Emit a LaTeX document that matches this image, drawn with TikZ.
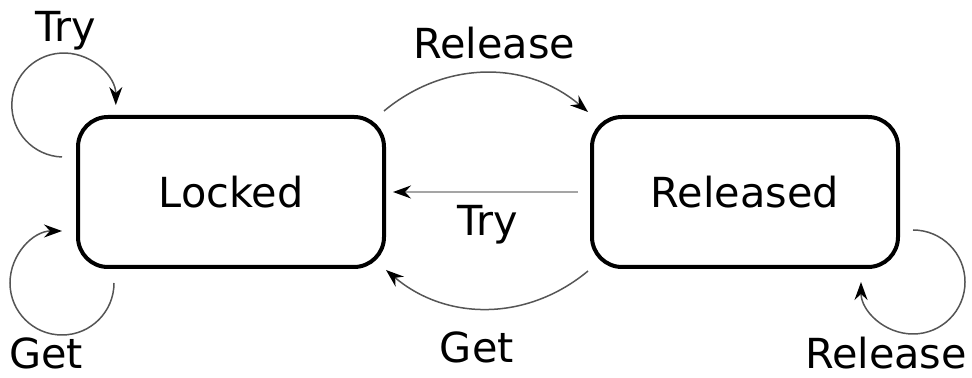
\documentclass[tikz,border=0pt]{standalone}
\usepackage{fontspec}
\setmainfont{DejaVu Sans}
\usetikzlibrary{arrows.meta, positioning}
\definecolor{wiregray}{RGB}{85, 85, 85}
\definecolor{lightwire}{RGB}{165, 165, 165}

\begin{document}
\begin{tikzpicture}[
  x=0.5pt, y=0.5pt,
  font=\fontsize{20.7}{24}\selectfont,
  state/.style={draw=black, line width=2pt, rounded corners=15pt,
                minimum width=153pt, minimum height=75pt, align=center},
  trans/.style={-{Stealth[length=9pt, width=6.5pt, inset=3pt, black]},
                wiregray, line width=0.75pt},
  lbl/.style={inner sep=0pt, text=black}
]
  \useasboundingbox (0,0) rectangle (972,378);

  \node[state] (locked) at (231,186) {Locked};
  \node[state, right=102pt of locked] (released) {Released};

  % between the two states
  \draw[trans] ([shift={(-2,4)}]locked.north east)
    to[bend left=40] node[lbl, midway, above=6.5pt, xshift=4pt] {Release}
    ([shift={(-2,3)}]released.north west);
  \draw[trans, lightwire, shorten <=6pt, shorten >=3.5pt] (released.west)
    -- (locked.east) node[lbl, midway, below=6.5pt] {Try};
  \draw[trans] ([shift={(-2,-2)}]released.south west)
    to[bend left=40] node[lbl, midway, below=11pt, xshift=-5pt] {Get}
    ([shift={(0,-1)}]locked.south east);

  % self loops
  \draw[trans] ([shift={(-14,-42)}]locked.north west)
    arc[start angle=268, end angle=0, radius=26pt];
  \node[lbl] (trylbl) at ([shift={(-10,84.5)}]locked.north west) {Try};
  \draw[trans] ([shift={(38,-14)}]locked.south west)
    arc[start angle=0, end angle=-270, radius=26pt];
  \node[lbl] (getlbl) at ([shift={(-30,-84)}]locked.south west) {Get};
  \draw[trans] ([shift={(13,39)}]released.south east)
    arc[start angle=90, end angle=-180, radius=26pt];
  \node[lbl] (rellbl) at ([shift={(-14,-84)}]released.south east) {Release};
\end{tikzpicture}
\end{document}
